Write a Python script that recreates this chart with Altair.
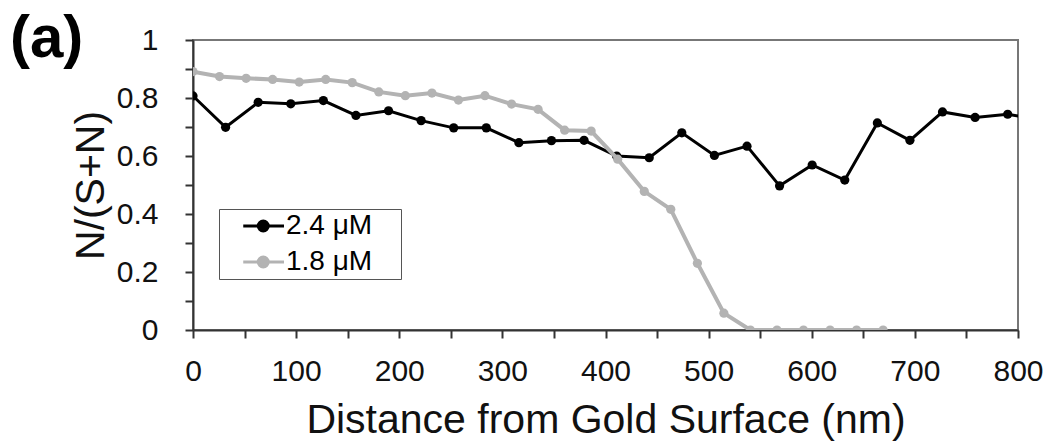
import altair as alt
import pandas as pd

# Distances (nm) and N/(S+N) values
dist_24 = [0, 31.6, 63.2, 94.8, 126.4, 158.0, 189.6, 221.2, 252.8, 284.4, 316.0, 347.6,
           379.2, 410.8, 442.4, 474.0, 505.6, 537.2, 568.8, 600.4, 632.0, 663.6, 695.2,
           726.8, 758.4, 790.0, 821.6]
vals_24 = [0.807, 0.699, 0.785, 0.780, 0.791, 0.740, 0.756, 0.722, 0.697, 0.697, 0.646,
           0.653, 0.654, 0.600, 0.594, 0.680, 0.602, 0.634, 0.497, 0.569, 0.517, 0.714,
           0.654, 0.752, 0.733, 0.744, 0.725]

dist_18 = [0, 25.7, 51.5, 77.2, 103.0, 128.7, 154.4, 180.2, 205.9, 231.7, 257.4, 283.1,
           308.9, 334.6, 360.4, 386.1, 411.8, 437.6, 463.3, 489.1, 514.8, 540.5, 566.3,
           592.0, 617.8, 643.5, 669.2]
vals_18 = [0.891, 0.874, 0.868, 0.864, 0.855, 0.864, 0.853, 0.821, 0.808, 0.817, 0.793,
           0.808, 0.779, 0.761, 0.689, 0.686, 0.589, 0.478, 0.416, 0.230, 0.058, 0, 0, 0,
           0, 0, 0]

series_names = ["2.4 μM", "1.8 μM"]
series_colors = ["#000000", "#b3b3b3"]

x_ticks = [0, 50, 100, 150, 200, 250, 300, 350, 400, 450, 500, 550, 600, 650, 700, 750, 800]
y_ticks = [0, 0.1, 0.2, 0.3, 0.4, 0.5, 0.6, 0.7, 0.8, 0.9, 1.0]

df = pd.concat([
    pd.DataFrame({"dist": dist_24, "val": vals_24, "series": series_names[0]}),
    pd.DataFrame({"dist": dist_18, "val": vals_18, "series": series_names[1]}),
])

FONT = "Liberation Sans"

legend_symbol = "M0.58,0L3.84,0M1.78,0A0.4,0.4 0 1,1 2.58,0A0.4,0.4 0 1,1 1.78,0Z"

color = alt.Color(
    "series:N",
    scale=alt.Scale(domain=series_names, range=series_colors),
    legend=alt.Legend(
        title=None, orient="none", legendX=26, legendY=169,
        labelFontSize=28, labelFont=FONT, labelColor="#000",
        labelExpr="datum.label + '\u2002\u2009\u2009\u200b'",
        symbolType=legend_symbol,
        symbolSize=625, symbolStrokeWidth=3, symbolOpacity=1,
        strokeColor="#555", padding=3, rowPadding=8, labelOffset=36,
    ),
)

x = alt.X("dist:Q", scale=alt.Scale(domain=[0, 800], nice=False),
          axis=alt.Axis(values=x_ticks, title="Distance from Gold Surface (nm)",
                        labelExpr="datum.value % 100 == 0 ? datum.label : ''"))
y = alt.Y("val:Q", scale=alt.Scale(domain=[0, 1], nice=False),
          axis=alt.Axis(values=y_ticks, title="N/(S+N)",
                        labelExpr="round(datum.value*10) % 2 == 0 ? format(datum.value, '.1~f') : ''"))

def series_layer(name, width, size):
    base = alt.Chart(df).transform_filter(alt.datum.series == name)
    line = base.mark_line(strokeWidth=width, clip=True).encode(x=x, y=y, color=color)
    pts = base.mark_point(filled=True, size=size, opacity=1, clip=True).encode(x=x, y=y, color=color)
    return line + pts

panel = alt.Chart(pd.DataFrame({"t": ["(a)"]})).mark_text(
    font=FONT, fontSize=60, fontWeight="bold", align="left", baseline="alphabetic", color="#000"
).encode(text="t:N", x=alt.value(-183), y=alt.value(17))

chart = alt.layer(
    series_layer(series_names[0], 3, 85),
    series_layer(series_names[1], 4, 85),
    panel,
).properties(
    width=825, height=290,
    autosize=alt.AutoSizeParams(type="none"),
    padding={"left": 193, "top": 40, "right": 32, "bottom": 114},
).configure_view(
    stroke="#777", strokeWidth=2
).configure_axis(
    grid=False, domainColor="#333", domainWidth=2, tickColor="#333", tickWidth=2, tickSize=8,
    labelFont=FONT, labelFontSize=30, labelColor="#111", titleFont=FONT, titleFontSize=41,
    titleFontWeight="normal", titleColor="#111",
).configure_axisX(labelPadding=18, titlePadding=14, labelFlush=False, labelOverlap=False
).configure_axisY(labelPadding=27, titlePadding=4, labelOverlap=False)

chart.save("out.html", embed_options={"renderer": "svg", "actions": False})
